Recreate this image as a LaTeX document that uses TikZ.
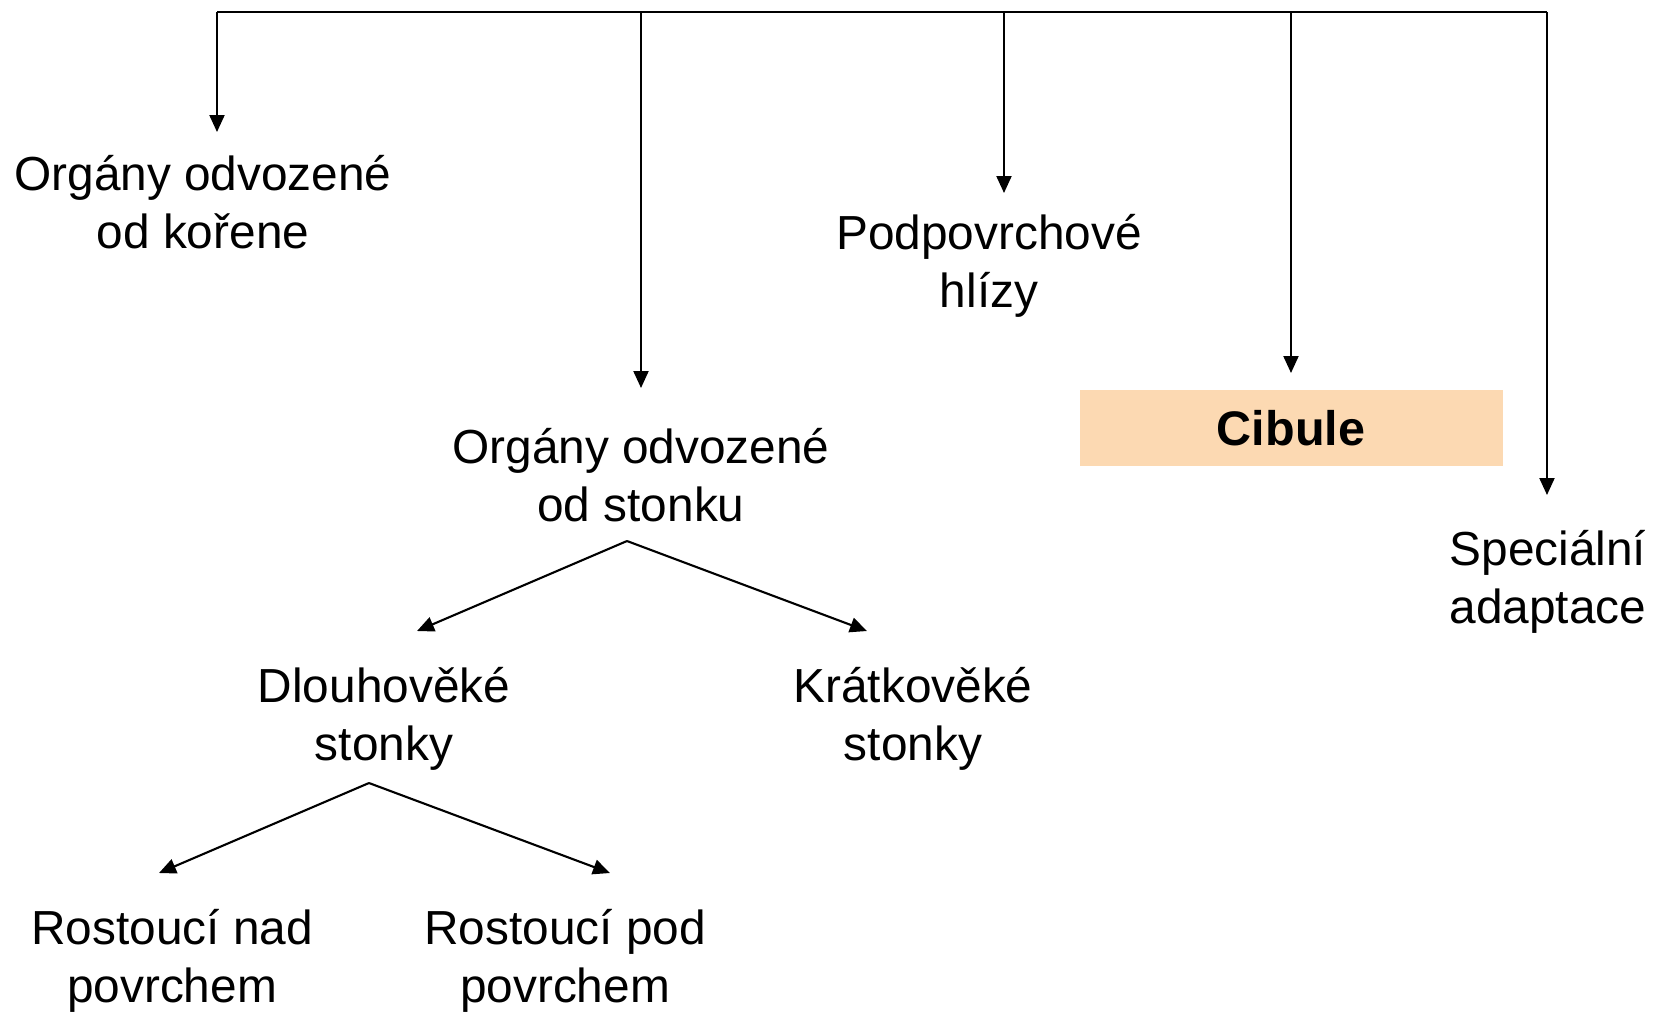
\documentclass[tikz,border=0pt]{standalone}
\usepackage{fontspec}
\setmainfont{Liberation Sans}
\usetikzlibrary{positioning, arrows.meta, calc}
\definecolor{peach}{RGB}{252,217,178}

\begin{document}
\begin{tikzpicture}[x=0.1mm, y=-0.1mm]
	\tikzset{
		>={Triangle[length=1.7mm, width=1.5mm]},
		link/.style={line width=0.6pt},
		lbl/.style={align=center, inner sep=0pt, font=\fontsize{13.6pt}{16.5pt}\selectfont},
		cibulebox/.style={fill=peach, minimum width=42.3mm, minimum height=7.6mm, font=\fontsize{13.8pt}{16.5pt}\selectfont\bfseries}
	}
	\useasboundingbox (0,0) rectangle (1654,1011);

	% Top line and where the branches leave it
	\coordinate (t1) at (217,12);
	\coordinate (t2) at (641,12);
	\coordinate (t3) at (1004,12);
	\coordinate (t4) at (1291,12);
	\coordinate (t5) at (1547,12);

	% Arrow ends
	\coordinate (e1) at (217,132);
	\coordinate (e2) at (641,388);
	\coordinate (e3) at (1004,193);
	\coordinate (e4) at (1291,373);
	\coordinate (e5) at (1547,495);

	% First level
	\node[lbl] (koren) at (203,202) {Orgány odvozené\\od kořene};
	\node[lbl] (stonek) at (641,475) {Orgány odvozené\\od stonku};
	\node[lbl] (hlizy) at (989,266) {Podpovrchové\\hlízy};
	\node[cibulebox] (cibule) at (1291,428) {Cibule};
	\node[lbl] (special) at (1548,582) {Speciální\\adaptace};

	% Stem organs
	\coordinate (s1) at (627,541);
	\coordinate (a1) at (417,631);
	\coordinate (a2) at (867,631);
	\node[lbl] (dlouho) at (384,719) {Dlouhověké\\stonky};
	\node[lbl] (kratko) at (913,719) {Krátkověké\\stonky};

	% Long-lived stems
	\coordinate (s2) at (369,783);
	\coordinate (b1) at (159,873);
	\coordinate (b2) at (610,873);
	\node[lbl] (nad) at (172,961) {Rostoucí nad\\povrchem};
	\node[lbl] (pod) at (565,961) {Rostoucí pod\\povrchem};

	% Draw arrows
	\draw[link] (t1) -- (t5);
	\draw[link, ->] (t1) -- (e1);
	\draw[link, ->] (t2) -- (e2);
	\draw[link, ->] (t3) -- (e3);
	\draw[link, ->] (t4) -- (e4);
	\draw[link, ->] (t5) -- (e5);

	\draw[link, ->] (s1) -- (a1);
	\draw[link, ->] (s1) -- (a2);
	\draw[link, ->] (s2) -- (b1);
	\draw[link, ->] (s2) -- (b2);

\end{tikzpicture}
\end{document}
